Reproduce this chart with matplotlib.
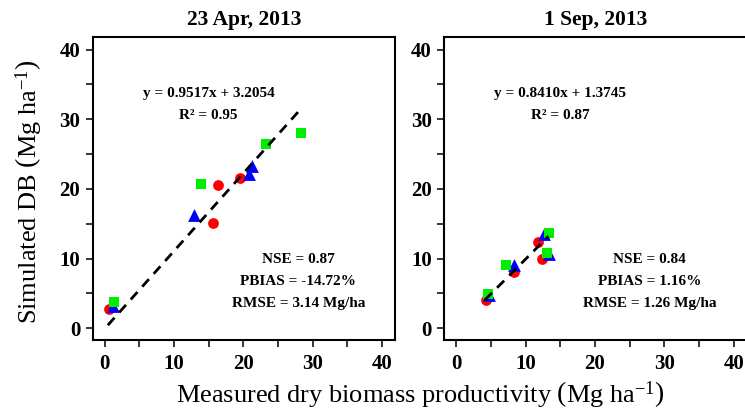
import matplotlib
matplotlib.use('Agg')
import matplotlib.pyplot as plt
import numpy as np

plt.rcParams['font.family'] = ['Liberation Serif', 'DejaVu Serif']
plt.rcParams['mathtext.fontset'] = 'custom'
plt.rcParams['mathtext.rm'] = 'Liberation Serif'
plt.rcParams['mathtext.it'] = 'Liberation Serif:italic'
plt.rcParams['mathtext.bf'] = 'Liberation Serif:bold'

# ---------------- data ----------------
titles = ['23 Apr, 2013', '1 Sep, 2013']

# 23 Apr, 2013
apr_red_x = [0.6, 15.6, 16.4, 19.5]
apr_red_y = [2.7, 15.1, 20.5, 21.5]
apr_blue_x = [1.2, 12.85, 20.8, 21.2]
apr_blue_y = [3.2, 16.3, 22.2, 23.3]
apr_green_x = [1.35, 13.9, 23.25, 28.3]
apr_green_y = [3.8, 20.7, 26.5, 28.0]
apr_line = dict(slope=1.117, intercept=-0.11, x0=0.48, x1=28.2)
apr_eq = ['y = 0.9517x + 3.2054', 'R² = 0.95']
apr_stats = ['NSE = 0.87', 'PBIAS = -14.72%', 'RMSE = 3.14 Mg/ha']

# 1 Sep, 2013
sep_red_x = [4.3, 8.4, 11.8, 12.4]
sep_red_y = [4.1, 8.0, 12.3, 9.9]
sep_blue_x = [4.8, 8.3, 12.6, 13.4]
sep_blue_y = [4.7, 9.0, 13.5, 10.7]
sep_green_x = [4.55, 7.15, 13.4, 13.1]
sep_green_y = [4.9, 9.0, 13.6, 10.8]
sep_line = dict(slope=1.0, intercept=-0.1, x0=4.15, x1=13.3)
sep_eq = ['y = 0.8410x + 1.3745', 'R² = 0.87']
sep_stats = ['NSE = 0.84', 'PBIAS = 1.16%', 'RMSE = 1.26 Mg/ha']

ticks = [0, 5, 10, 15, 20, 25, 30, 35, 40]
tick_labels = ['0', '', '10', '', '20', '', '30', '', '40']

panels = [
    (apr_red_x, apr_red_y, apr_blue_x, apr_blue_y, apr_green_x, apr_green_y,
     apr_line, apr_eq, apr_stats),
    (sep_red_x, sep_red_y, sep_blue_x, sep_blue_y, sep_green_x, sep_green_y,
     sep_line, sep_eq, sep_stats),
]

# ---------------- figure ----------------
fig = plt.figure(figsize=(7.45, 4.18), dpi=100)
ax_w = 302 / 745
ax_h = 303 / 418
ax_b = 1 - 340 / 418
lefts = [92.7 / 745, 444.3 / 745]

for i, (rx, ry, bx, by, gx, gy, ln, eq, st) in enumerate(panels):
    ax = fig.add_axes([lefts[i], ax_b, ax_w, ax_h])
    ax.scatter(rx, ry, s=60, marker='o', color='#ff0000', linewidths=0, zorder=3)
    ax.scatter(bx, by, s=85, marker='^', color='#0000ff', linewidths=0, zorder=4)
    ax.scatter(gx, gy, s=60, marker='s', color='#00ee00', linewidths=0, zorder=5)
    xs = np.array([ln['x0'], ln['x1']])
    ax.plot(xs, ln['slope'] * xs + ln['intercept'], color='black', lw=2.0,
            dashes=(3.6, 2.6), zorder=6)
    ax.set_xlim(-1.7, 41.8)
    ax.set_ylim(-1.7, 41.8)
    ax.set_xticks(ticks)
    ax.set_yticks(ticks)
    ax.set_xticklabels(tick_labels)
    ax.set_yticklabels(tick_labels)
    ax.tick_params(direction='out', length=5, width=1.1, labelsize=15, pad=4)
    ax.tick_params(axis='x', pad=5)
    for lab in ax.get_xticklabels() + ax.get_yticklabels():
        lab.set_fontweight('bold')
    for sp in ax.spines.values():
        sp.set_linewidth(1.5)
    ax.set_title(titles[i], fontsize=15.5, fontweight='bold', pad=9)
    ax.text(15.0, 33.7, eq[0], fontsize=11, fontweight='bold', ha='center', va='center')
    ax.text(15.0, 30.6, eq[1], fontsize=11, fontweight='bold', ha='center', va='center')
    for j, (s, yy) in enumerate(zip(st, [9.8, 6.65, 3.5])):
        ax.text(27.9, yy, s, fontsize=11, fontweight='bold', ha='center', va='center')

fig.text(29 / 745, 1 - 192 / 418, r'Simulated DB $\left(\mathrm{Mg\ ha^{-1}}\right)$',
         rotation=90, ha='center', va='center', fontsize=19)
fig.text(420 / 745, 1 - 395 / 418, r'Measured dry biomass productivity $\left(\mathrm{Mg\ ha^{-1}}\right)$',
         ha='center', va='center', fontsize=19)

fig.savefig('out.png', dpi=100)
